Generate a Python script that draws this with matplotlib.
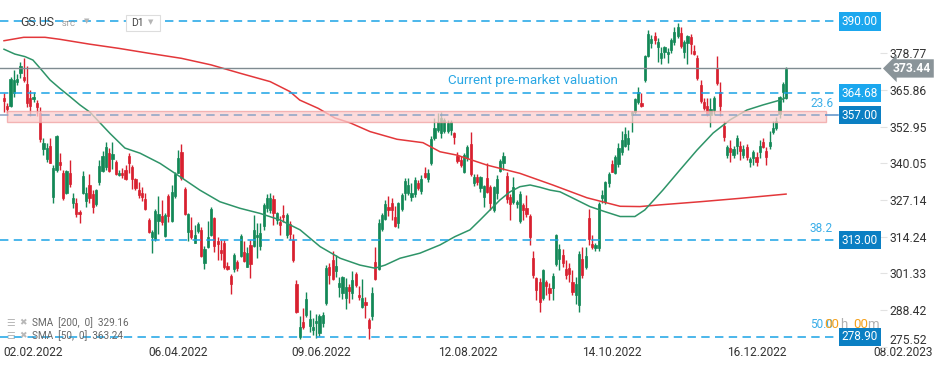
import matplotlib.pyplot as plt
import numpy as np
from matplotlib.transforms import blended_transform_factory

plt.rcParams['font.family'] = ['Roboto', 'DejaVu Sans']

# daily candles
opens = [363.0, 360.2, 360.2, 364.8, 368.7, 372.0, 370.4, 367.9, 363.0, 362.6,
         361.3, 357.8, 345.1, 341.6, 346.3, 328.2, 337.7, 340.5, 336.6, 329.6,
         336.6, 326.0, 326.0, 322.8, 329.6, 326.7, 332.4, 329.2, 325.7, 333.5,
         337.3, 338.7, 343.7, 341.6, 340.5, 336.0, 336.6, 337.7, 342.6, 338.7,
         334.5, 330.6, 329.6, 327.4, 319.9, 314.0, 313.3, 319.8, 321.4, 314.4,
         328.5, 319.8, 328.5, 336.7, 344.0, 331.0, 315.9, 316.4, 312.0, 316.2,
         316.4, 305.0, 310.6, 314.7, 320.8, 312.7, 309.6, 311.9, 303.8, 300.4,
         302.8, 305.3, 307.4, 308.8, 303.4, 311.2, 310.9, 314.0, 310.9, 318.0,
         324.3, 323.6, 327.5, 320.0, 319.4, 321.8, 314.7, 318.7, 313.0, 297.6,
         278.9, 284.2, 286.6, 282.7, 281.4, 283.8, 280.3, 283.8, 290.9, 303.6,
         306.0, 302.1, 296.5, 294.4, 292.6, 296.5, 294.4, 301.1, 293.7, 289.5,
         291.2, 284.9, 286.3, 305.3, 302.8, 316.9, 320.4, 324.6, 326.0, 321.1,
         319.0, 323.9, 329.6, 329.6, 328.2, 329.2, 333.1, 330.3, 336.6, 334.5,
         340.2, 348.9, 351.8, 350.7, 351.4, 351.4, 351.8, 350.7, 342.6, 341.2,
         336.9, 341.9, 346.9, 333.1, 335.2, 331.3, 328.2, 334.8, 331.7, 323.6,
         329.6, 337.3, 340.2, 335.5, 328.2, 326.4, 325.7, 319.7, 325.3, 324.3,
         321.4, 306.7, 299.7, 298.3, 292.6, 298.3, 296.2, 296.2, 304.6, 306.3,
         307.8, 302.8, 303.1, 298.3, 293.7, 290.1, 306.4, 303.6, 320.8, 311.6,
         310.2, 310.1, 327.8, 326.4, 333.1, 339.8, 336.6, 339.8, 343.9, 346.1,
         346.8, 357.0, 358.1, 361.6, 361.3, 369.4, 377.8, 382.4, 384.9, 381.0,
         377.1, 379.2, 378.5, 379.9, 382.8, 384.9, 385.9, 379.2, 382.4, 384.5,
         379.6, 377.1, 367.6, 361.6, 360.2, 357.0, 358.8, 373.5, 365.1, 353.2,
         342.9, 345.4, 343.0, 346.1, 346.1, 342.9, 345.8, 340.5, 341.9, 342.3,
         344.0, 347.5, 344.4, 346.1, 351.1, 352.5, 357.4, 365.0, 363.0]
highs = [364.8, 361.3, 370.4, 372.9, 371.5, 375.7, 377.1, 374.3, 365.9, 365.2,
         362.3, 359.8, 348.9, 347.2, 348.9, 339.4, 350.0, 343.7, 337.7, 337.7,
         341.2, 329.6, 327.8, 323.6, 337.3, 331.7, 336.3, 330.6, 331.0, 341.2,
         344.4, 347.5, 345.4, 347.5, 341.2, 337.7, 338.4, 339.4, 343.7, 339.4,
         335.0, 333.5, 331.7, 329.6, 320.8, 316.4, 323.9, 328.5, 327.1, 322.5,
         329.2, 332.4, 337.0, 344.7, 346.9, 331.7, 322.5, 321.1, 318.3, 319.4,
         317.7, 310.9, 319.8, 324.6, 321.1, 314.0, 313.0, 313.0, 305.3, 301.1,
         308.5, 306.0, 315.0, 312.7, 310.6, 313.0, 321.8, 319.1, 319.1, 326.0,
         329.2, 329.6, 328.9, 322.8, 321.4, 325.3, 322.5, 319.8, 315.3, 299.0,
         286.3, 289.1, 294.7, 288.4, 285.6, 287.0, 287.0, 287.7, 304.2, 304.9,
         309.2, 307.8, 300.0, 300.4, 299.7, 297.6, 302.1, 301.8, 296.9, 299.3,
         292.9, 285.5, 296.5, 310.6, 320.4, 322.5, 327.1, 328.5, 327.8, 324.9,
         326.4, 329.6, 334.9, 334.9, 333.1, 335.2, 334.2, 336.0, 338.7, 338.0,
         349.7, 356.0, 357.8, 358.1, 356.0, 355.3, 355.3, 351.1, 344.0, 342.6,
         343.7, 346.5, 351.1, 336.3, 336.3, 335.6, 332.4, 340.0, 332.4, 331.9,
         336.0, 341.6, 344.0, 337.0, 329.2, 335.2, 327.1, 330.3, 326.0, 328.9,
         322.1, 309.2, 300.0, 299.7, 302.8, 299.0, 298.0, 301.4, 315.3, 311.6,
         310.0, 306.0, 304.9, 302.5, 300.0, 309.2, 310.6, 310.6, 323.9, 314.7,
         311.9, 326.4, 330.6, 333.8, 337.0, 341.2, 343.0, 347.2, 351.4, 352.8,
         351.8, 358.5, 362.9, 366.9, 364.8, 378.2, 387.0, 385.2, 386.3, 384.0,
         381.0, 381.5, 380.6, 384.0, 388.0, 389.4, 388.0, 383.5, 385.2, 385.6,
         381.7, 378.0, 369.5, 362.9, 363.0, 363.0, 363.7, 377.8, 368.7, 354.9,
         346.5, 348.2, 346.0, 349.9, 347.9, 346.5, 346.9, 342.3, 344.7, 343.9,
         348.2, 349.0, 345.8, 351.5, 354.9, 356.3, 363.7, 368.6, 374.0]
lows = [358.1, 357.8, 359.8, 363.4, 367.6, 370.0, 368.7, 359.8, 356.7, 361.6,
        356.7, 347.5, 343.0, 340.5, 340.0, 326.0, 337.0, 337.7, 327.2, 329.2,
        331.7, 324.3, 321.1, 319.1, 329.2, 324.6, 326.0, 322.5, 325.0, 332.4,
        337.0, 337.7, 337.0, 338.0, 336.0, 335.5, 334.9, 334.2, 336.6, 331.0,
        330.6, 327.8, 326.8, 323.6, 315.6, 308.4, 312.7, 315.3, 318.3, 314.0,
        319.4, 319.4, 327.8, 336.6, 334.1, 321.8, 312.7, 313.3, 311.9, 315.6,
        307.1, 302.9, 310.2, 314.4, 308.8, 306.0, 306.0, 302.9, 302.5, 294.0,
        301.8, 302.2, 307.1, 305.3, 303.4, 299.8, 310.6, 306.7, 309.5, 316.6,
        322.8, 322.5, 318.3, 318.7, 314.7, 319.4, 313.7, 313.0, 305.3, 287.4,
        278.1, 281.7, 285.9, 280.6, 279.6, 278.5, 279.2, 282.4, 290.2, 297.6,
        298.9, 300.0, 293.0, 292.2, 288.8, 291.0, 292.2, 296.5, 292.0, 289.1,
        285.6, 278.2, 284.9, 299.0, 302.5, 316.2, 320.1, 321.4, 320.0, 317.7,
        317.3, 323.2, 327.1, 328.9, 326.7, 328.2, 330.6, 329.2, 334.9, 333.5,
        339.4, 348.2, 351.1, 348.9, 350.7, 350.7, 350.0, 346.9, 340.2, 338.7,
        336.6, 340.9, 335.5, 332.0, 332.4, 329.9, 324.6, 329.6, 323.6, 322.8,
        327.4, 337.0, 337.7, 326.0, 320.1, 325.7, 324.3, 319.0, 320.1, 321.0,
        311.2, 299.7, 291.9, 287.7, 291.9, 293.5, 291.9, 291.9, 303.8, 302.5,
        303.5, 299.3, 298.3, 293.7, 290.5, 287.7, 299.7, 302.8, 311.2, 309.9,
        309.2, 309.2, 326.0, 325.7, 331.7, 336.9, 336.3, 338.7, 342.9, 345.8,
        344.7, 351.1, 357.4, 360.9, 359.8, 368.7, 377.4, 380.6, 382.0, 375.8,
        375.0, 377.0, 375.3, 378.8, 381.6, 384.2, 380.6, 377.0, 375.0, 378.5,
        378.1, 369.4, 361.3, 358.8, 356.7, 352.8, 357.0, 367.6, 356.7, 347.9,
        342.0, 340.5, 341.9, 343.3, 341.2, 342.0, 341.2, 338.9, 339.4, 339.0,
        342.0, 345.4, 339.4, 345.1, 350.4, 351.8, 355.9, 361.6, 362.6]
closes = [362.0, 359.1, 369.7, 369.4, 369.7, 374.3, 369.4, 361.3, 360.2, 363.4,
          359.8, 348.6, 347.2, 345.4, 340.2, 338.4, 349.7, 339.4, 327.8, 337.3,
          332.7, 327.8, 322.1, 322.1, 335.5, 329.6, 327.8, 324.6, 330.6, 339.1,
          342.6, 345.8, 337.3, 343.3, 336.3, 336.6, 335.9, 334.5, 340.2, 334.5,
          331.3, 328.9, 328.2, 323.9, 316.0, 316.0, 323.3, 322.1, 319.4, 321.8,
          321.4, 329.9, 336.1, 342.0, 334.8, 322.1, 322.1, 314.0, 314.9, 318.7,
          307.4, 309.9, 314.2, 323.9, 310.9, 311.6, 308.5, 303.4, 302.8, 297.6,
          307.8, 303.1, 314.4, 305.6, 308.5, 304.6, 316.4, 314.7, 315.6, 325.3,
          327.8, 327.8, 322.5, 322.5, 318.3, 321.1, 321.8, 315.3, 306.0, 287.7,
          282.4, 282.4, 292.2, 285.2, 282.4, 284.5, 286.3, 286.6, 303.2, 300.7,
          299.3, 303.8, 297.9, 300.0, 296.5, 295.1, 299.0, 297.2, 293.0, 292.6,
          290.2, 282.1, 294.4, 299.3, 319.1, 321.8, 325.7, 323.6, 323.6, 318.0,
          326.0, 328.9, 333.8, 332.4, 329.6, 334.2, 331.3, 334.5, 335.2, 336.6,
          348.6, 352.5, 354.6, 356.0, 355.3, 354.2, 354.6, 349.3, 340.9, 339.4,
          342.9, 345.8, 336.3, 335.2, 333.5, 335.2, 332.0, 329.9, 326.0, 331.7,
          334.5, 340.9, 342.6, 327.4, 325.7, 331.7, 326.4, 329.2, 323.6, 322.1,
          314.0, 300.7, 295.4, 291.2, 302.5, 296.9, 294.4, 300.4, 314.7, 309.9,
          304.9, 300.7, 301.1, 294.7, 297.6, 308.1, 300.7, 307.4, 313.3, 310.6,
          311.2, 325.7, 328.9, 333.5, 336.3, 337.0, 342.3, 345.4, 348.2, 350.4,
          348.9, 358.1, 362.6, 365.2, 360.2, 377.8, 385.6, 383.8, 383.5, 382.8,
          378.8, 381.0, 379.2, 383.5, 386.3, 388.1, 381.3, 382.8, 384.9, 382.0,
          378.5, 370.0, 362.0, 359.5, 357.4, 359.1, 363.0, 368.3, 360.2, 349.3,
          345.8, 344.0, 345.0, 348.9, 344.4, 345.1, 342.3, 341.6, 344.0, 340.5,
          346.1, 345.8, 342.3, 347.5, 352.5, 354.9, 363.4, 368.0, 373.4]

# moving averages, sampled along the chart (bar index, value)
sma200_idx = [0, 6, 12.5, 17, 26, 35, 44, 54, 63, 72, 81, 87, 90, 95.6, 100.7,
              105.3, 111.4, 119.6, 127.5, 132.7, 137.9, 147, 157, 167, 177.4,
              187.5, 193.5, 199.6, 211.8, 224, 238]
sma200_val = [383.2, 384.4, 384.4, 383.7, 382.0, 380.5, 378.8, 377.0, 374.7,
              371.7, 368.8, 365.3, 362.3, 359.4, 356.0, 354.3, 351.2, 348.5,
              347.3, 344.1, 342.9, 339.4, 336.5, 332.4, 327.9, 324.9, 324.8,
              325.4, 326.5, 327.7, 329.2]
sma50_idx = [0, 3.3, 6.4, 8.8, 11, 14, 17, 20.1, 23.1, 26.2, 29.2, 32.3, 36.8,
             41.4, 47.5, 53.6, 59.6, 65.7, 71.8, 77.9, 84, 90.1, 96.2, 102.3,
             108.3, 112.9, 116, 120.5, 126.6, 132.7, 137.2, 141.8, 144.9, 147.9,
             150.9, 154, 157, 160.1, 163.1, 166.2, 169.2, 172.2, 178.3, 182.9,
             187.5, 192, 195, 200.5, 205.7, 210.9, 215.8, 220.9, 226.1, 231,
             236.2, 238]
sma50_val = [380.2, 378.5, 377.6, 376.4, 373.5, 369.4, 366.4, 363.5, 360.6,
             358.0, 354.3, 350.5, 345.4, 343.6, 340.0, 335.3, 330.6, 326.5,
             324.2, 322.4, 320.1, 316.6, 310.7, 306.6, 304.2, 303.1, 304.2,
             306.6, 308.4, 311.3, 314.2, 316.6, 320.1, 323.6, 327.1, 330.0,
             331.8, 332.4, 331.6, 330.6, 330.0, 328.3, 324.8, 323.0, 321.3,
             321.3, 323.6, 330.6, 337.7, 344.7, 350.7, 355.3, 358.8, 360.6,
             362.3, 363.2]

levels = [390.00, 364.68, 357.00, 313.00, 278.90]
level_fc = ['#1ba7ee', '#1ba7ee', '#0b7fc3', '#0b7fc3', '#0b7fc3']
fib_names = ['23.6', '38.2', '50.0']
fib_levels = [357.00, 313.00, 278.90]
last_price = 373.44
zone_low, zone_high = 354.6, 358.5
sma200_last, sma50_last = 329.16, 363.24

yticks = [275.52, 288.42, 301.33, 314.24, 327.14, 340.05, 352.95, 365.86, 378.77]
date_labels = ['02.02.2022', '06.04.2022', '09.06.2022', '12.08.2022',
               '14.10.2022', '16.12.2022', '08.02.2023']
date_bars = [-0.3, 43.8, 87.6, 132.1, 175.9, 220.0, 264.5]

# ---- layout (pixel based) ----
W, H = 949, 370
fig = plt.figure(figsize=(W / 100, H / 100), dpi=100)
ax = fig.add_axes([0, (H - 348) / H, 1, 348 / H])
ax.set_xlim(-1.217, 287.58)
ax.set_ylim(275.0, 397.54)
for s in ax.spines.values():
    s.set_visible(False)
ax.spines['right'].set_position(('axes', 887 / W))
ax.yaxis.tick_right()
ax.set_yticks(yticks)
ax.set_yticklabels([f'{v:.2f}' for v in yticks])
ax.tick_params(axis='y', direction='in', length=5, color='#e2e2e2',
               labelsize=8.7, labelcolor='#333333', pad=2)
ax.get_yticklabels()[0].set_va('bottom')
ax.set_xticks(date_bars)
ax.set_xticklabels(date_labels, ha='left')
ax.tick_params(axis='x', length=0, labelsize=8.6, labelcolor='#333333', pad=-1.8)

tr = blended_transform_factory(ax.transAxes, ax.transData)
fx = lambda px: px / W

# candles
x = np.arange(len(closes))
o = np.array(opens)
c = np.array(closes)
up = c >= o
cols = np.where(up, '#138857', '#d8202f')
ax.vlines(x, lows, highs, colors=cols, lw=1.0, zorder=3)
body = np.maximum(np.abs(c - o), 0.35)
ax.bar(x, body, bottom=np.minimum(o, c), width=0.66, color=cols,
       edgecolor=cols, linewidth=0.5, zorder=3)

# moving averages
ax.plot(sma200_idx, sma200_val, color='#e3373a', lw=1.1, zorder=4)
ax.plot(sma50_idx, sma50_val, color='#2e9468', lw=1.1, zorder=4)

# support/resistance zone
ax.axhspan(zone_low, zone_high, xmin=fx(7), xmax=fx(826), fc='#fbd0d0',
           ec='#f0a0a0', lw=1.0, alpha=0.75, zorder=5)

# horizontal levels
for lv in levels:
    if lv == 357.00:
        ax.axhline(lv, xmin=0, xmax=fx(826), color='#8aa3c6', lw=1.1,
                   dashes=(5.5, 3.5), zorder=6)
        ax.axhline(lv, xmin=fx(826), xmax=fx(838), color='#5a90c8', lw=1.1, zorder=6)
    else:
        ax.axhline(lv, xmin=0, xmax=fx(836), color='#1aa3e6', lw=1.1,
                   dashes=(5.5, 3.5), zorder=6)
for lv, fc in zip(levels, level_fc):
    ax.text(fx(860), lv, f'{lv:.2f}', transform=tr, ha='center', va='center',
            fontsize=8.5, color='white', zorder=8,
            bbox=dict(boxstyle='square,pad=0.22', fc=fc, ec='none'))

for name, lv in zip(fib_names, fib_levels):
    ax.annotate(name, (fx(810), lv), xycoords=tr, xytext=(0, 4),
                textcoords='offset points', ha='left', va='bottom',
                fontsize=8.5, color='#3aaee8', zorder=7)

# last price line and tag
ax.axhline(last_price, xmin=0, xmax=fx(880), color='#7f8b91', lw=1.0, zorder=6)
ax.text(fx(912), last_price, f'{last_price:.2f}', transform=tr, ha='center',
        va='center', fontsize=8.7, fontweight='bold', color='white', zorder=8,
        bbox=dict(boxstyle='larrow,pad=0.22', fc='#8a9499', ec='none'))

ax.text(fx(448), 369.2, 'Current pre-market valuation', transform=tr,
        ha='left', va='center', fontsize=9.6, color='#2aa7e4', zorder=7)

# countdown
for px, t, col in [(824, '00', '#f5a01a'), (840, 'h', '#b0b0b0'),
                   (853, '00', '#f5a01a'), (867, 'm', '#b0b0b0')]:
    fig.text(fx(px), 1 - 325 / H, t, ha='left', va='center', fontsize=9.5,
             color=col, zorder=9)

# header
fig.text(fx(20), 1 - 23 / H, 'GS.US', ha='left', va='center', fontsize=8.8,
         color='#3d3d3d')
fig.text(fx(62), 1 - 24 / H, 'STC', ha='left', va='center', fontsize=5.5,
         color='#8a8a8a')
fig.text(fx(84), 1 - 21 / H, '▼', ha='left', va='center', fontsize=5,
         color='#b5b5b5', family=['DejaVu Sans'])
fig.patches.append(plt.Rectangle((fx(126), 1 - 31 / H), fx(34), 16 / H,
                                 transform=fig.transFigure, fc='white',
                                 ec='#dddddd', lw=0.8))
fig.text(fx(131), 1 - 23.5 / H, 'D1', ha='left', va='center', fontsize=7.5,
         color='#444444')
fig.text(fx(148), 1 - 22 / H, '▼', ha='left', va='center', fontsize=5,
         color='#b5b5b5', family=['DejaVu Sans'])

# indicator legend
for row, (name, val) in enumerate([('SMA  [200,  0]', sma200_last),
                                   ('SMA  [50,  0]', sma50_last)]):
    yy = 1 - (323 + 13 * row) / H
    fig.text(fx(6), yy, '☰', ha='left', va='center', fontsize=7,
             color='#b8b8b8', family=['DejaVu Sans'])
    fig.text(fx(19), yy, '✖', ha='left', va='center', fontsize=6.5,
             color='#b8b8b8', family=['DejaVu Sans'])
    fig.text(fx(32), yy, f'{name}  {val:.2f}', ha='left', va='center',
             fontsize=7.2, color='#666666')

fig.savefig('out.png', dpi=100)
